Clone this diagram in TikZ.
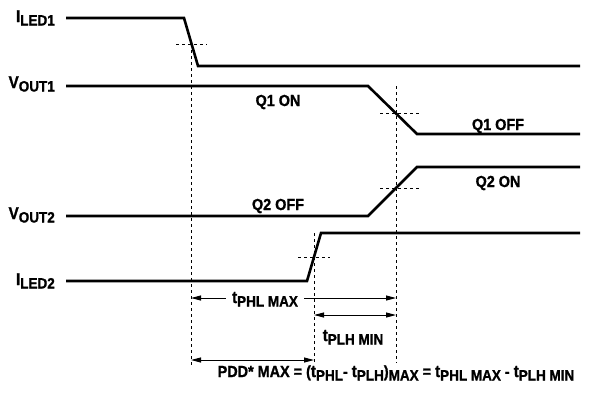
\documentclass[tikz,border=0pt]{standalone}
\usepackage{fontspec}
\setmainfont[FakeStretch=0.9,BoldFont={Liberation Sans Bold},BoldFeatures={FakeBold=1.2}]{Liberation Sans}
\usepackage{tikz}
\usetikzlibrary{arrows.meta}
\newcommand{\sig}[2]{{\bfseries\fontsize{17}{17}\selectfont #1}\raisebox{-3.5pt}{\bfseries\fontsize{15}{15}\selectfont #2}}

\begin{document}
\begin{tikzpicture}[
  x=1pt,y=-1pt,
  font=\fontsize{16}{16}\selectfont\bfseries,
  wave/.style={line width=2.6pt},
  guide/.style={dash pattern=on 3pt off 3pt,line width=0.8pt},
  arr/.style={{Triangle[length=10pt,width=5pt]}-{Triangle[length=10pt,width=5pt]},line width=1pt},
  tag/.style={inner sep=0pt,anchor=base}
]
\useasboundingbox (0,0) rectangle (599,392);
% signal names
\node[tag,anchor=base east] (iled1) at (55,22) {\sig{I}{LED1}};
\node[tag,anchor=base east] (vout1) at (55,88) {\sig{V}{OUT1}};
\node[tag,anchor=base east] (vout2) at (55,219) {\sig{V}{OUT2}};
\node[tag,anchor=base east] (iled2) at (55,285) {\sig{I}{LED2}};
% waveforms
\draw[wave] (66,18) -- (184,18) -- (198,66) -- (580,66);
\draw[wave] (66,86) -- (368,86) -- (417,134) -- (580,134);
\draw[wave] (66,216) -- (368,216) -- (417,167) -- (580,167);
\draw[wave] (66,281) -- (307,281) -- (321,233) -- (580,233);
% states
\node[tag] (q1on) at (278,106) {Q1 ON};
\node[tag] (q1off) at (498,130) {Q1 OFF};
\node[tag] (q2on) at (498,187) {Q2 ON};
\node[tag] (q2off) at (278,210) {Q2 OFF};
% 50% marks
\draw[guide] (176,44) -- (207,44);
\draw[guide] (380,113) -- (420,113);
\draw[guide] (380,188) -- (420,188);
\draw[guide] (298,257) -- (330,257);
\draw[guide] (191,44) -- (191,367);
\draw[guide] (314,233) -- (314,362);
\draw[guide] (396,86) -- (396,363);
% delays
\coordinate (phlL) at (191,298);
\coordinate (phlR) at (396,298);
\coordinate (plhL) at (314,315);
\coordinate (plhR) at (396,315);
\coordinate (pddL) at (191,360);
\coordinate (pddR) at (314,360);
\draw[arr] (phlL) -- (phlR);
\draw[arr] (plhL) -- (plhR);
\draw[arr] (pddL) -- (pddR);
\node[tag,fill=white,inner xsep=6pt,inner ysep=2pt] (tphl) at (265,303) {\sig{t}{PHL MAX}};
\node[tag] (tplh) at (353,341) {\sig{t}{PLH MIN}};
\node[tag] (pdd) at (396,377) {PDD* MAX = (\sig{t}{PHL}- \sig{t}{PLH})\raisebox{-3.5pt}{\fontsize{15}{15}\selectfont MAX} = \sig{t}{PHL MAX} - \sig{t}{PLH MIN}};
\end{tikzpicture}
\end{document}
